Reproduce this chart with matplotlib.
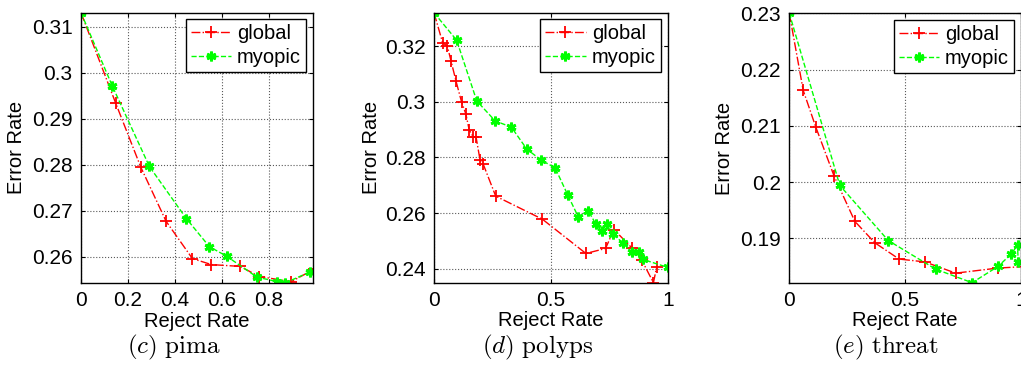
import matplotlib
matplotlib.use("Agg")
import matplotlib.pyplot as plt
from matplotlib.ticker import FixedLocator, FixedFormatter

plt.rcParams['font.family'] = ['Liberation Sans', 'DejaVu Sans']
plt.rcParams['mathtext.fontset'] = 'cm'

# ---------------- data ----------------
pima_global_x = [0.0, 0.148, 0.254, 0.362, 0.474, 0.555, 0.677, 0.759, 0.894, 0.993]
pima_global_y = [0.3130, 0.2933, 0.2795, 0.2677, 0.2596, 0.2583, 0.2579, 0.2557, 0.2546, 0.2573]
pima_myopic_x = [0.0, 0.133, 0.291, 0.448, 0.546, 0.620, 0.748, 0.833, 0.868, 0.974]
pima_myopic_y = [0.3130, 0.2971, 0.2796, 0.2683, 0.2622, 0.2601, 0.2556, 0.2546, 0.2543, 0.2567]

polyps_global_x = [0.0, 0.037, 0.057, 0.073, 0.094, 0.118, 0.136, 0.151, 0.168, 0.180,
                   0.197, 0.211, 0.264, 0.464, 0.650, 0.734, 0.770, 0.849, 0.889, 0.939, 0.953]
polyps_global_y = [0.3320, 0.3212, 0.3200, 0.3146, 0.3075, 0.2999, 0.2957, 0.2898, 0.2874, 0.2873,
                   0.2791, 0.2775, 0.2661, 0.2578, 0.2455, 0.2473, 0.2541, 0.2473, 0.2431, 0.2350, 0.2407]
polyps_myopic_x = [0.0, 0.097, 0.183, 0.262, 0.331, 0.397, 0.459, 0.518, 0.573, 0.617,
                   0.660, 0.693, 0.720, 0.739, 0.765, 0.808, 0.846, 0.877, 0.893, 1.0]
polyps_myopic_y = [0.3320, 0.3221, 0.3003, 0.2931, 0.2909, 0.2830, 0.2790, 0.2763, 0.2664, 0.2587,
                   0.2608, 0.2560, 0.2536, 0.2562, 0.2525, 0.2493, 0.2460, 0.2460, 0.2434, 0.2405]

threat_global_x = [0.0, 0.060, 0.115, 0.193, 0.283, 0.369, 0.474, 0.585, 0.718, 0.900, 1.03]
threat_global_y = [0.2300, 0.2163, 0.2097, 0.2011, 0.1930, 0.1892, 0.1863, 0.1858, 0.1838, 0.1847, 0.1850]
threat_myopic_x = [0.0, 0.218, 0.427, 0.632, 0.789, 0.901, 0.958, 0.985, 0.988, 1.03]
threat_myopic_y = [0.2300, 0.1994, 0.1896, 0.1845, 0.1821, 0.1850, 0.1872, 0.1888, 0.1857, 0.1860]

pima_xticks = [0, 0.2, 0.4, 0.6, 0.8]
pima_xticklabels = ['0', '0.2', '0.4', '0.6', '0.8']
pima_yticks = [0.26, 0.27, 0.28, 0.29, 0.30, 0.31]
pima_yticklabels = ['0.26', '0.27', '0.28', '0.29', '0.3', '0.31']

polyps_xticks = [0, 0.5, 1]
polyps_xticklabels = ['0', '0.5', '1']
polyps_yticks = [0.24, 0.26, 0.28, 0.30, 0.32]
polyps_yticklabels = ['0.24', '0.26', '0.28', '0.3', '0.32']

threat_xticks = [0, 0.5, 1]
threat_xticklabels = ['0', '0.5', '1']
threat_yticks = [0.19, 0.20, 0.21, 0.22, 0.23]
threat_yticklabels = ['0.19', '0.2', '0.21', '0.22', '0.23']

captions = [r'$(c)\ \mathrm{pima}$', r'$(d)\ \mathrm{polyps}$', r'$(e)\ \mathrm{threat}$']
series_names = ['global', 'myopic']

# ---------------- figure ----------------
W, H = 1021, 368
fig = plt.figure(figsize=(W / 100, H / 100), dpi=100)

def axes_px(l, r, t, b):
    return fig.add_axes([l / W, 1 - b / H, (r - l) / W, (b - t) / H])

panels = [
    dict(box=(81, 313, 12.7, 283), xlim=(0, 0.987), ylim=(0.2543, 0.3130),
         gx=pima_global_x, gy=pima_global_y, mx=pima_myopic_x, my=pima_myopic_y,
         xt=pima_xticks, xtl=pima_xticklabels, yt=pima_yticks, ytl=pima_yticklabels,
         ylab_x=16.5, cap_x=174),
    dict(box=(434, 667.7, 12.7, 282.7), xlim=(0, 1.0), ylim=(0.2350, 0.3320),
         gx=polyps_global_x, gy=polyps_global_y, mx=polyps_myopic_x, my=polyps_myopic_y,
         xt=polyps_xticks, xtl=polyps_xticklabels, yt=polyps_yticks, ytl=polyps_yticklabels,
         ylab_x=371, cap_x=538),
    dict(box=(789.3, 1021, 13.3, 282.7), xlim=(0, 1.0), ylim=(0.1821, 0.2300),
         gx=threat_global_x, gy=threat_global_y, mx=threat_myopic_x, my=threat_myopic_y,
         xt=threat_xticks, xtl=threat_xticklabels, yt=threat_yticks, ytl=threat_yticklabels,
         ylab_x=725, cap_x=886),
]

FS = 14.5
for p, cap in zip(panels, captions):
    l, r, t, b = p['box']
    ax = axes_px(l, r, t, b)
    ax.plot(p['gx'], p['gy'], color=(1, 0, 0), linestyle='-.', linewidth=1.0,
            marker='+', markersize=8, markeredgewidth=1.3, label=series_names[0])
    ax.plot(p['mx'], p['my'], color=(0, 1, 0), linestyle='--', linewidth=1.0,
            marker=(6, 2, 0), markersize=7, markeredgewidth=2.0, label=series_names[1])
    ax.set_xlim(*p['xlim'])
    ax.set_ylim(*p['ylim'])
    ax.xaxis.set_major_locator(FixedLocator(p['xt']))
    ax.xaxis.set_major_formatter(FixedFormatter(p['xtl']))
    ax.yaxis.set_major_locator(FixedLocator(p['yt']))
    ax.yaxis.set_major_formatter(FixedFormatter(p['ytl']))
    ax.tick_params(direction='in', length=3, width=0.8, top=True, right=True,
                   labelsize=15, pad=6, colors='black')
    ax.grid(True, linestyle=':', color='0.35', linewidth=0.8)
    for s in ax.spines.values():
        s.set_linewidth(1.0)
        s.set_color('black')
    ax.set_xlabel('Reject Rate', fontsize=FS, labelpad=1)
    fig.text(p['ylab_x'] / W, 1 - ((t + b) / 2) / H, 'Error Rate', fontsize=FS,
             rotation=90, ha='center', va='center')
    leg = ax.legend(loc='upper right', bbox_to_anchor=(0.97, 0.976), borderaxespad=0,
                    fontsize=FS, frameon=True, fancybox=False, framealpha=1,
                    edgecolor='black', handlelength=2.0, handletextpad=0.3,
                    borderpad=0.25, labelspacing=0.25)
    leg.get_frame().set_linewidth(1.0)
    fig.text(p['cap_x'] / W, 1 - 347 / H, cap, fontsize=18, ha='center', va='center')

fig.savefig('out.png', dpi=100)
